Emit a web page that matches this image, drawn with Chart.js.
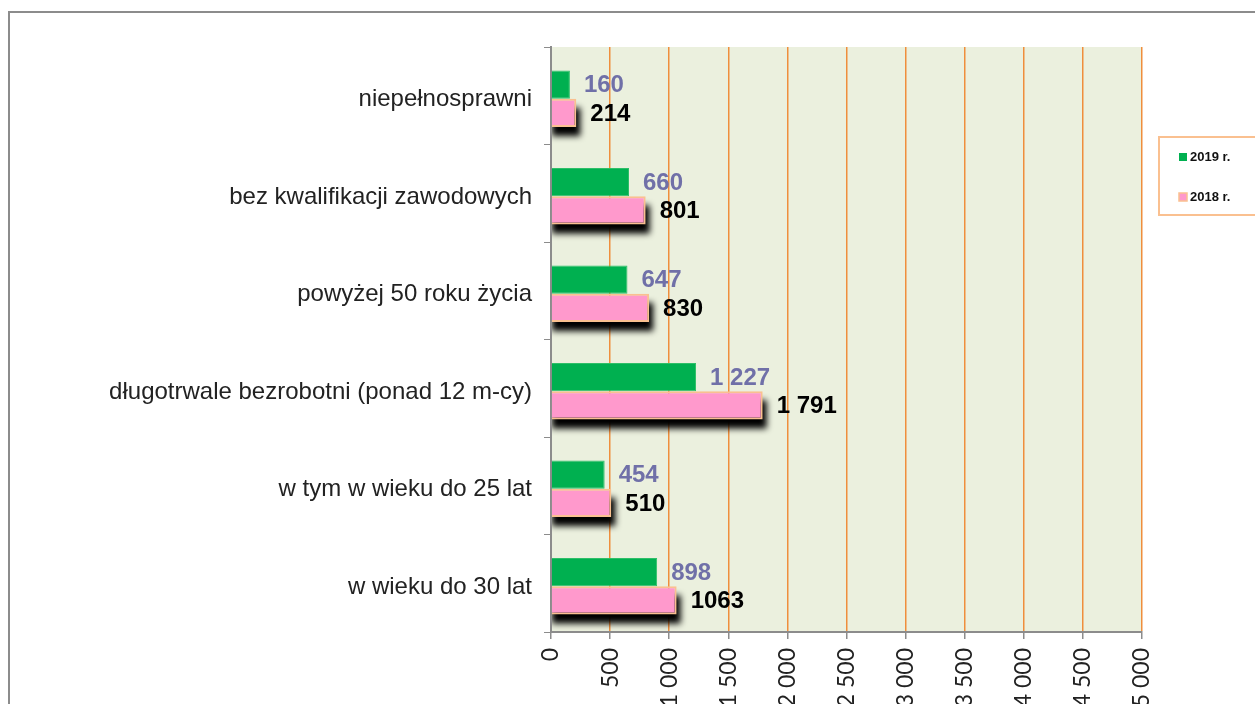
<!DOCTYPE html>
<html>
<head>
<meta charset="utf-8">
<script src="https://cdn.jsdelivr.net/npm/chart.js@4"></script>
<style>
  body { margin: 0; background: #fff; }
  #wrap { width: 1255px; height: 704px; }
</style>
</head>
<body>
<div id="wrap"><canvas id="chart" width="1255" height="704"></canvas></div>
<script>
const categories = [
  'niepełnosprawni',
  'bez kwalifikacji zawodowych',
  'powyżej 50 roku życia',
  'długotrwale bezrobotni (ponad 12 m-cy)',
  'w tym w wieku do 25 lat',
  'w wieku do 30 lat'
];
const values2019 = [160, 660, 647, 1227, 454, 898];
const values2018 = [214, 801, 830, 1791, 510, 1063];
const labels2019 = ['160', '660', '647', '1 227', '454', '898'];
const labels2018 = ['214', '801', '830', '1 791', '510', '1063'];
const xTicks = ['0', '500', '1 000', '1 500', '2 000', '2 500', '3 000', '3 500', '4 000', '4 500', '5 000'];

const GREEN = '#00B050';
const PINK = '#FF99CC';
const PINK_BORDER = '#FAC090';
const GRID = '#EF8E3C';
const AXIS = '#8C8C8C';
const SHIFT = 3; // bars sit a little below the category centre

// frame, plot background, bar shadows and value labels
const decor = {
  id: 'decor',
  beforeDraw(chart) {
    const { ctx, chartArea: a } = chart;
    ctx.save();
    ctx.strokeStyle = AXIS;
    ctx.lineWidth = 2;
    ctx.beginPath();
    ctx.moveTo(9, 704);
    ctx.lineTo(9, 12);
    ctx.lineTo(1255, 12);
    ctx.stroke();
    ctx.fillStyle = '#EBF0DE';
    ctx.fillRect(a.left, a.top, a.right - a.left, a.bottom - a.top);
    ctx.restore();
  },
  beforeDatasetsDraw(chart) {
    chart.ctx.save();
    chart.ctx.translate(0, SHIFT);
  },
  beforeDatasetDraw(chart, args) {
    if (args.index !== 1) return;
    const { ctx, chartArea: a } = chart;
    ctx.save();
    ctx.beginPath();
    ctx.rect(a.left + 1, a.top, a.right - a.left, a.bottom - a.top - SHIFT);
    ctx.clip();
    ctx.filter = 'blur(3px)';
    ctx.fillStyle = '#000';
    args.meta.data.forEach(bar => {
      const h = bar.height;
      ctx.fillRect(bar.base, bar.y - h / 2 + 9, bar.x - bar.base + 4, h);
    });
    ctx.restore();
  },
  afterDatasetsDraw(chart) {
    const { ctx } = chart;
    ctx.restore();
    ctx.save();
    ctx.font = 'bold 24px "Liberation Sans", Arial, sans-serif';
    ctx.textAlign = 'left';
    ctx.textBaseline = 'middle';
    chart.getDatasetMeta(0).data.forEach((bar, i) => {
      ctx.fillStyle = '#7070A8';
      ctx.fillText(labels2019[i], bar.x + 14, bar.y + SHIFT + 1);
    });
    chart.getDatasetMeta(1).data.forEach((bar, i) => {
      ctx.fillStyle = '#000';
      ctx.fillText(labels2018[i], bar.x + 14, bar.y + SHIFT + 1);
    });
    ctx.restore();
  },
  afterDraw(chart) {
    const { ctx } = chart;
    ctx.save();
    ctx.strokeStyle = PINK_BORDER;
    ctx.lineWidth = 2;
    ctx.strokeRect(1159, 137, 110, 78);
    ctx.font = 'bold 13px "Liberation Sans", Arial, sans-serif';
    ctx.textBaseline = 'middle';
    chart.data.datasets.forEach((ds, i) => {
      const y = 157 + i * 40;
      ctx.fillStyle = ds.backgroundColor;
      ctx.fillRect(1179, y - 4, 8, 8);
      if (i === 1) {
        ctx.strokeStyle = PINK_BORDER;
        ctx.lineWidth = 1.5;
        ctx.strokeRect(1179, y - 4, 8, 8);
      }
      ctx.fillStyle = '#111';
      ctx.fillText(ds.label, 1190, y);
    });
    ctx.restore();
  }
};

new Chart(document.getElementById('chart'), {
  type: 'bar',
  data: {
    labels: categories,
    datasets: [
      {
        label: '2019 r.',
        data: values2019,
        backgroundColor: GREEN,
        borderColor: '#2EBF68',
        borderWidth: 1,
        categoryPercentage: 0.58,
        barPercentage: 1
      },
      {
        label: '2018 r.',
        data: values2018,
        backgroundColor: PINK,
        borderColor: PINK_BORDER,
        borderWidth: 2,
        categoryPercentage: 0.58,
        barPercentage: 1
      }
    ]
  },
  options: {
    indexAxis: 'y',
    responsive: false,
    animation: false,
    layout: { padding: { top: 47, right: 113, left: 0, bottom: 0 } },
    plugins: { legend: { display: false }, tooltip: { enabled: false } },
    scales: {
      x: {
        min: 0,
        max: 5000,
        afterFit(scale) { scale.height = 72; },
        ticks: {
          stepSize: 500,
          minRotation: 90,
          maxRotation: 90,
          padding: 9,
          color: '#222',
          font: { family: 'Lato, "Open Sans", sans-serif', size: 23 },
          callback: (v, i) => xTicks[i]
        },
        grid: {
          color: ctx => ctx.index === 0 ? 'rgba(0,0,0,0)' : GRID,
          lineWidth: 1.5,
          tickColor: AXIS,
          tickLength: 7
        },
        border: { color: AXIS, width: 2 }
      },
      y: {
        afterFit(scale) { scale.width = 551; },
        ticks: {
          padding: 12,
          labelOffset: 4,
          color: '#222',
          font: { family: '"Liberation Sans", Arial, sans-serif', size: 24 }
        },
        grid: {
          offset: true,
          drawOnChartArea: false,
          tickColor: AXIS,
          tickLength: 7
        },
        border: { color: AXIS, width: 2 }
      }
    }
  },
  plugins: [decor]
});
</script>
</body>
</html>
